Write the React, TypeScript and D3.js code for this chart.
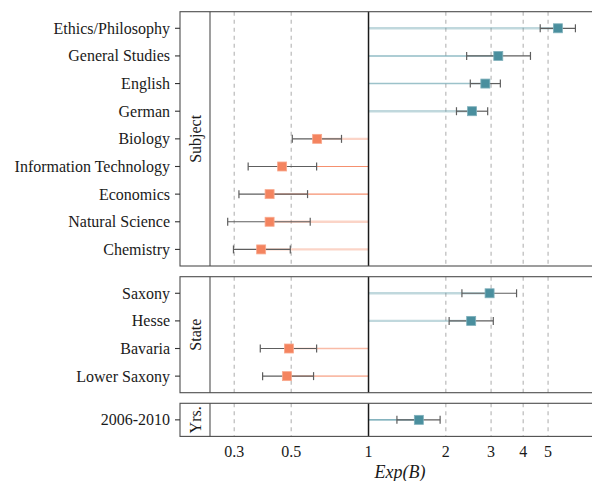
import React from 'react';
import * as d3 from 'd3';

// odds ratios (Exp(B)) with 95% CI
const subjects = ['Ethics/Philosophy', 'General Studies', 'English', 'German', 'Biology',
  'Information Technology', 'Economics', 'Natural Science', 'Chemistry'];
const subjectEst = [5.46, 3.2, 2.85, 2.53, 0.631, 0.461, 0.412, 0.412, 0.382];
const subjectLo = [4.66, 2.41, 2.49, 2.2, 0.505, 0.34, 0.313, 0.283, 0.298];
const subjectHi = [6.39, 4.27, 3.26, 2.91, 0.785, 0.628, 0.579, 0.593, 0.496];
const subjectSig = [0, 2, 1, 0, 0, 2, 2, 0, 0];

const states = ['Saxony', 'Hesse', 'Bavaria', 'Lower Saxony'];
const stateEst = [2.96, 2.51, 0.49, 0.481];
const stateLo = [2.31, 2.06, 0.379, 0.387];
const stateHi = [3.77, 3.06, 0.628, 0.611];
const stateSig = [0, 0, 1, 1];

const years = ['2006-2010'];
const yearEst = [1.57];
const yearLo = [1.29];
const yearHi = [1.9];
const yearSig = [2];

const xTicks = [0.3, 0.5, 1, 2, 3, 4, 5];

const panels = [
  { strip: 'Subject', labels: subjects, est: subjectEst, lo: subjectLo, hi: subjectHi, sig: subjectSig, top: 11.7, bottom: 266 },
  { strip: 'State', labels: states, est: stateEst, lo: stateLo, hi: stateHi, sig: stateSig, top: 276.7, bottom: 392.7 },
  { strip: 'Yrs.', labels: years, est: yearEst, lo: yearLo, hi: yearHi, sig: yearSig, top: 403.3, bottom: 436.4 },
];

export default function App() {
  const width = 592;
  const height = 481;
  const stripLeft = 180;
  const plotLeft = 210;
  const plotRight = 600;
  const font = '"Liberation Serif", "Times New Roman", serif';

  const x = d3.scaleLog().domain([0.2415, 7.5]).range([plotLeft, 593.3]);
  const lineWidth = d3.scaleOrdinal<number, number>().domain([0, 1, 2]).range([2.4, 1.6, 1.1]);
  const lineOpacity = d3.scaleOrdinal<number, number>().domain([0, 1, 2]).range([0.35, 0.55, 0.9]);
  const pos = '#4a8f9e';
  const neg = '#f4845f';
  const sq = 9;

  return (
    <div style={{ position: 'absolute', left: 0, top: 0 }}>
      <svg width={width} height={height} style={{ display: 'block', fontFamily: font }}>
        <rect width={width} height={height} fill='#fff' />
        {panels.map((p) => {
          const y = d3.scalePoint<string>().domain(p.labels).range([p.top, p.bottom]).padding(0.6);
          return (
            <g key={p.strip}>
              {/* dashed grid */}
              {xTicks.filter((t) => t !== 1).map((t) => (
                <line key={t} x1={x(t)} x2={x(t)} y1={p.top} y2={p.bottom}
                  stroke='#b3b3b3' strokeWidth={1.1} strokeDasharray='4,4' />
              ))}
              {/* coloured lines from 1 to estimate */}
              {p.labels.map((lab, i) => (
                <line key={lab} x1={x(1)} x2={x(p.est[i])} y1={y(lab)} y2={y(lab)}
                  stroke={p.est[i] > 1 ? pos : neg}
                  strokeOpacity={lineOpacity(p.sig[i])}
                  strokeWidth={lineWidth(p.sig[i])} />
              ))}
              {/* error bars */}
              {p.labels.map((lab, i) => {
                const yy = y(lab)!;
                return (
                  <g key={lab} stroke='#5e5e5e' strokeWidth={1.2}>
                    <line x1={x(p.lo[i])} x2={x(p.hi[i])} y1={yy} y2={yy} />
                    <line x1={x(p.lo[i])} x2={x(p.lo[i])} y1={yy - 4} y2={yy + 4} />
                    <line x1={x(p.hi[i])} x2={x(p.hi[i])} y1={yy - 4} y2={yy + 4} />
                  </g>
                );
              })}
              {/* estimates */}
              {p.labels.map((lab, i) => (
                <rect key={lab} x={x(p.est[i]) - sq / 2} y={y(lab)! - sq / 2} width={sq} height={sq}
                  fill={p.est[i] > 1 ? pos : neg} stroke={p.est[i] > 1 ? '#7fb0bb' : '#f9a98e'} strokeWidth={0.8} />
              ))}
              {/* reference line at 1 */}
              <line x1={x(1)} x2={x(1)} y1={p.top} y2={p.bottom} stroke='#1a1a1a' strokeWidth={1.5} />
              {/* panel + strip borders */}
              <rect x={stripLeft} y={p.top} width={plotRight - stripLeft} height={p.bottom - p.top}
                fill='none' stroke='#4d4d4d' strokeWidth={1.1} />
              <line x1={plotLeft} x2={plotLeft} y1={p.top} y2={p.bottom} stroke='#4d4d4d' strokeWidth={1.1} />
              <text transform={`translate(${(stripLeft + plotLeft) / 2 + 5.5},${(p.top + p.bottom) / 2}) rotate(-90)`}
                textAnchor='middle' fontSize={16} fill='#1a1a1a'>{p.strip}</text>
              {/* y axis */}
              {p.labels.map((lab) => (
                <g key={lab} transform={`translate(0,${y(lab)})`}>
                  <line x1={175} x2={stripLeft} stroke='#333' strokeWidth={1.1} />
                  <text x={170} dy='0.34em' textAnchor='end' fontSize={16} fill='#1a1a1a'>{lab}</text>
                </g>
              ))}
            </g>
          );
        })}
        {/* x axis labels */}
        {xTicks.map((t) => (
          <text key={t} x={x(t)} y={457} textAnchor='middle' fontSize={16} fill='#1a1a1a'>{t}</text>
        ))}
        <text x={400} y={478} textAnchor='middle' fontSize={18} fontStyle='italic' fill='#1a1a1a'>Exp(B)</text>
      </svg>
    </div>
  );
}
